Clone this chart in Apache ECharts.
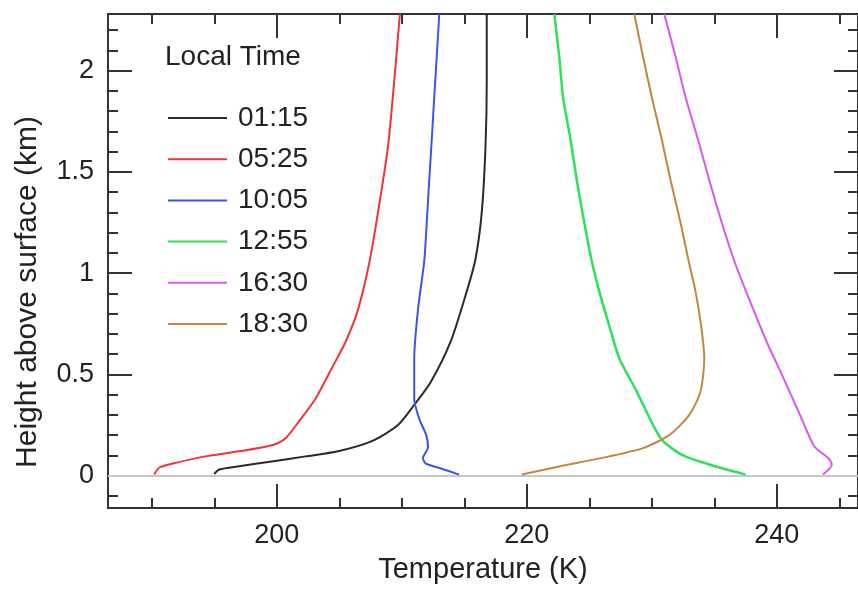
<!DOCTYPE html>
<html>
<head>
<meta charset="utf-8">
<script src="https://cdn.jsdelivr.net/npm/echarts@6/dist/echarts.min.js"></script>
<style>html,body{margin:0;padding:0;background:#fff}#c{width:858px;height:589px}</style>
</head>
<body>
<div id="c"></div>
<script>
// Legend / series names
var seriesNames = ['01:15', '05:25', '10:05', '12:55', '16:30', '18:30'];
var seriesColors = ['#2a2a2a', '#f2333a', '#3b55e6', '#2ee05a', '#dd55ee', '#c08840'];

// Temperature (K) and height (km) samples
var t0115 = [195.0, 195.4, 197.0, 199.6, 202.3, 204.9, 207.6, 209.7, 211.0, 212.3, 213.9, 215.2, 215.9, 216.4, 216.7, 216.8, 216.8];
var h0115 = [0.008, 0.03, 0.046, 0.07, 0.095, 0.12, 0.17, 0.25, 0.35, 0.46, 0.66, 0.91, 1.07, 1.30, 1.625, 1.95, 2.28];

var t0525 = [190.2, 190.6, 191.7, 194.3, 197.0, 199.6, 200.7, 201.8, 203.1, 204.4, 205.5, 206.5, 207.4, 208.1, 208.9, 209.4, 209.85];
var h0525 = [0.005, 0.04, 0.06, 0.095, 0.12, 0.15, 0.185, 0.27, 0.38, 0.53, 0.66, 0.82, 1.05, 1.30, 1.625, 1.95, 2.28];

var t1005 = [214.6, 212.9, 211.9, 211.7, 212.1, 211.96, 211.4, 211.0, 211.0, 211.3, 211.8, 212.0, 212.2, 212.4, 212.6, 212.8, 213.0];
var h1005 = [0.005, 0.04, 0.06, 0.087, 0.14, 0.2, 0.28, 0.38, 0.58, 0.82, 1.06, 1.25, 1.46, 1.66, 1.87, 2.07, 2.28];

var t1255 = [237.5, 234.6, 232.5, 230.9, 230.1, 228.8, 227.4, 226.6, 225.8, 225.2, 224.6, 224.0, 223.5, 222.9, 222.6, 222.2];
var h1255 = [0.005, 0.055, 0.10, 0.17, 0.25, 0.415, 0.58, 0.74, 0.91, 1.06, 1.25, 1.46, 1.66, 1.87, 2.07, 2.28];

var t1630 = [243.7, 244.4, 244.1, 243.0, 242.0, 240.4, 239.2, 237.8, 236.6, 235.6, 234.6, 233.7, 232.7, 231.9, 231.0];
var h1630 = [0.005, 0.054, 0.087, 0.145, 0.28, 0.5, 0.66, 0.87, 1.06, 1.25, 1.46, 1.66, 1.87, 2.07, 2.28];

var t1830 = [219.6, 222.7, 226.6, 229.3, 231.4, 233.0, 233.9, 234.2, 233.95, 233.5, 232.95, 232.3, 231.5, 230.8, 230.0, 229.3, 228.6];
var h1830 = [0.005, 0.046, 0.095, 0.136, 0.2, 0.30, 0.415, 0.58, 0.74, 0.91, 1.06, 1.25, 1.46, 1.66, 1.87, 2.07, 2.28];

var temps = [t0115, t0525, t1005, t1255, t1630, t1830];
var heights = [h0115, h0525, h1005, h1255, h1630, h1830];

var FONT = 'Liberation Sans, Arial, Helvetica, sans-serif';
var AX = '#333333';

function pairs(t, h) { return t.map(function (v, i) { return [v, h[i]]; }); }

var series = seriesNames.map(function (name, i) {
  var s = {
    name: name,
    type: 'line',
    data: pairs(temps[i], heights[i]),
    xAxisIndex: 0, yAxisIndex: 0,
    smooth: 0.25,
    symbol: 'none',
    lineStyle: { color: seriesColors[i], width: i === 3 ? 2.5 : 2 },
    itemStyle: { color: seriesColors[i] },
    z: 3
  };
  if (i === 0) {
    s.markLine = {
      silent: true, symbol: 'none', label: { show: false },
      lineStyle: { color: '#c8c8c8', width: 2, type: 'solid' },
      data: [{ yAxis: 0 }], z: 1
    };
  }
  return s;
});

function xAx(pos, showLabel) {
  return {
    type: 'value', position: pos, min: 186.5, max: 246.5,
    splitNumber: 3, minInterval: 20, maxInterval: 20,
    axisLine: { show: true, onZero: false, lineStyle: { color: AX, width: 2 } },
    axisTick: { show: true, inside: true, length: 24, lineStyle: { color: AX, width: 2 } },
    minorTick: { show: true, splitNumber: 4, length: 10, lineStyle: { color: AX, width: 2 } },
    splitLine: { show: false },
    axisLabel: { show: showLabel, showMinLabel: false, showMaxLabel: false, margin: 14,
      color: '#222', fontSize: 27, fontFamily: FONT },
    name: showLabel ? 'Temperature (K)' : '',
    nameLocation: 'middle', nameGap: 47,
    nameTextStyle: { color: '#222', fontSize: 29, fontFamily: FONT }
  };
}
function yAx(pos, showLabel) {
  return {
    type: 'value', position: pos, min: -0.16, max: 2.28,
    splitNumber: 5, minInterval: 0.5, maxInterval: 0.5,
    axisLine: { show: true, onZero: false, lineStyle: { color: AX, width: 2 } },
    axisTick: { show: true, inside: true, length: 24, lineStyle: { color: AX, width: 2 } },
    minorTick: { show: true, splitNumber: 5, length: 10, lineStyle: { color: AX, width: 2 } },
    splitLine: { show: false },
    axisLabel: { show: showLabel, showMinLabel: false, showMaxLabel: false, margin: 14,
      color: '#222', fontSize: 27, fontFamily: FONT },
    name: showLabel ? 'Height above surface (km)' : '',
    nameLocation: 'middle', nameGap: 65,
    nameTextStyle: { color: '#222', fontSize: 30, fontFamily: FONT, padding: [0, 62, 0, 0] }
  };
}

var chart = echarts.init(document.getElementById('c'), null, { renderer: 'canvas' });
chart.setOption({
  animation: false,
  backgroundColor: '#ffffff',
  grid: { left: 108, right: -5, top: 14, bottom: 79, containLabel: false },
  xAxis: [xAx('bottom', true), xAx('top', false)],
  yAxis: [yAx('left', true), yAx('right', false)],
  legend: {
    orient: 'vertical', left: 163, top: 98,
    icon: 'rect', itemWidth: 59, itemHeight: 2, itemGap: 11.2,
    data: seriesNames,
    textStyle: { color: '#222', fontSize: 28, fontFamily: FONT, lineHeight: 30, padding: [0, 0, 0, 6] },
    selectedMode: false
  },
  graphic: [{
    type: 'text', left: 165, top: 43,
    style: { text: 'Local Time', fill: '#222', font: '28px ' + FONT }
  }],
  series: series
});
</script>
</body>
</html>
